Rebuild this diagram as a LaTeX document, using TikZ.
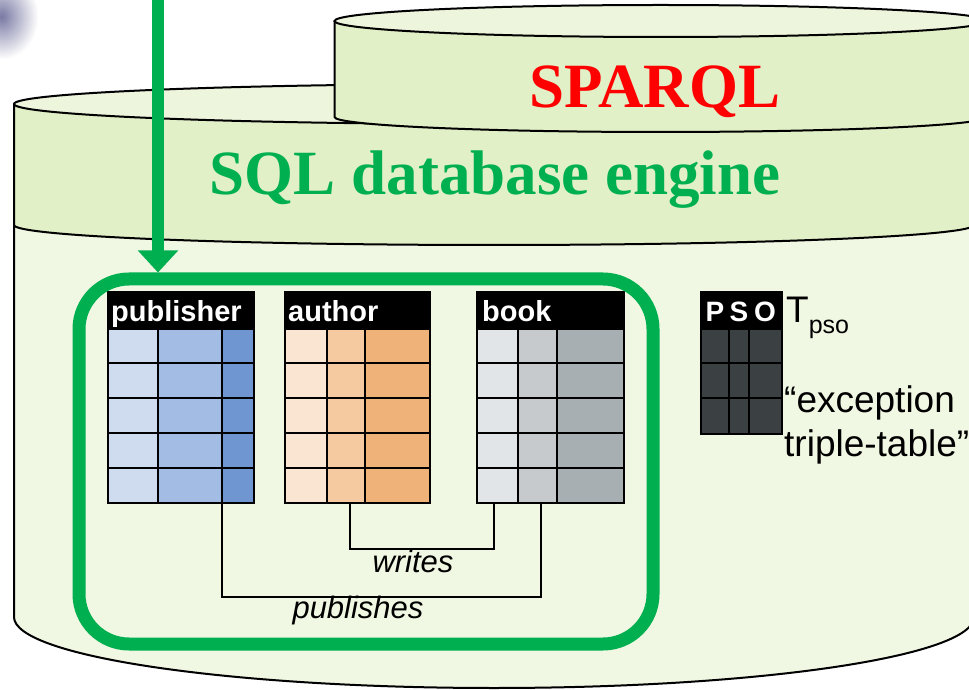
\documentclass[tikz,border=0pt]{standalone}
\usepackage{fontspec}
\setmainfont{Liberation Serif}
\setsansfont{Liberation Sans}
\usetikzlibrary{arrows.meta,fadings}

\definecolor{bodyfill}{HTML}{F0F7E2}
\definecolor{bandfill}{HTML}{E2F0C7}
\definecolor{topfill}{HTML}{EEF5DD}
\definecolor{enggreen}{HTML}{00B050}
\definecolor{blobc}{HTML}{6B6B9B}
\definecolor{pubA}{HTML}{CFDCEF}
\definecolor{pubB}{HTML}{A2BCE3}
\definecolor{pubC}{HTML}{7096D2}
\definecolor{autA}{HTML}{FAE4D2}
\definecolor{autB}{HTML}{F5CAA0}
\definecolor{autC}{HTML}{EFB37A}
\definecolor{bookA}{HTML}{E1E5E8}
\definecolor{bookB}{HTML}{C6CACD}
\definecolor{bookC}{HTML}{A7AFB2}
\definecolor{tripc}{HTML}{3B4042}

\tikzfading[name=blobfade, inner color=transparent!0, outer color=transparent!100]

% a relation table: column edges #1-#4, column fills #5-#7, bottom #8, row lines #9
\newcommand\reltable[9]{%
  \fill[#5] (#1,#8) rectangle (#2,360);
  \fill[#6] (#2,#8) rectangle (#3,360);
  \fill[#7] (#3,#8) rectangle (#4,360);
  \fill[black] (#1,360) rectangle (#4,397);
  \foreach \yy in {#9} {\draw[grid] (#1,\yy) -- (#4,\yy);}
  \draw[grid] (#2,#8) -- (#2,360) (#3,#8) -- (#3,360);
  \draw[grid] (#1,#8) rectangle (#4,397);
}

\begin{document}
\begin{tikzpicture}[x=1pt,y=1pt,
  outline/.style={draw=black, line width=2pt},
  grid/.style={line width=2.4pt, black},
  hdr/.style={text=white, font=\sffamily\bfseries\fontsize{29}{29}\selectfont, inner sep=0pt},
  link/.style={draw=black, line width=1.8pt},
  lbl/.style={font=\sffamily\itshape\fontsize{31}{31}\selectfont, inner sep=0pt},
  note/.style={font=\sffamily\fontsize{37}{44}\selectfont, inner sep=0pt},
  relbox/.style={draw=enggreen, line width=13pt, rounded corners=50pt,
    minimum width=574pt, minimum height=365pt, inner sep=0pt}]
\useasboundingbox (0,0) rectangle (969,689);
\clip (0,0) rectangle (969,689);
\fill[white] (0,0) rectangle (969,689);

% soft smudge in the upper left corner
\fill[blobc, path fading=blobfade, opacity=0.9] (-35,630) rectangle (38,715);

% SQL engine cylinder
\fill[bodyfill] (14,585) -- (14,72) arc[start angle=180,end angle=360,x radius=480,y radius=71] -- (974,585) -- cycle;
\fill[bandfill] (14,585) arc[start angle=180,end angle=360,x radius=480,y radius=20]
  -- (974,464) arc[start angle=0,end angle=-180,x radius=480,y radius=20] -- cycle;
\filldraw[fill=topfill, outline] (494,585) ellipse[x radius=480,y radius=20];
\draw[outline] (14,585) -- (14,72) arc[start angle=180,end angle=360,x radius=480,y radius=71] -- (974,585);
\draw[outline] (14,464) arc[start angle=180,end angle=360,x radius=480,y radius=20];
\node[anchor=base, inner sep=0pt, text=enggreen, font=\bfseries\fontsize{63}{63}\selectfont] (sqltitle) at (495,494) {SQL database engine};

% SPARQL cylinder on top
\fill[bandfill] (334.5,668) -- (334.5,572) arc[start angle=180,end angle=360,x radius=326,y radius=15] -- (986.5,668) -- cycle;
\draw[outline] (334.5,668) -- (334.5,572) arc[start angle=180,end angle=360,x radius=326,y radius=15] -- (986.5,668);
\filldraw[fill=topfill, outline] (660.5,668) ellipse[x radius=326,y radius=16];
\node[anchor=base, inner sep=0pt, text=red, font=\bfseries\fontsize{63}{63}\selectfont] (sparql) at (655,581) {SPARQL};

% relational tables
\reltable{108}{158}{222}{254}{pubA}{pubB}{pubC}{186}{360,326,291,256,221}
\reltable{285}{327}{365}{430}{autA}{autB}{autC}{186}{360,326,291,256,221}
\reltable{477}{518}{557}{624}{bookA}{bookB}{bookC}{186}{360,326,291,256,221}
\reltable{701}{729}{749}{782}{tripc}{tripc}{tripc}{255}{360,326,291}
\node[hdr, anchor=base west] (pubhdr) at (111,367) {publisher};
\node[hdr, anchor=base west] (authdr) at (288,367) {author};
\node[hdr, anchor=base west] (bookhdr) at (482,367) {book};
\node[hdr, anchor=base, font=\sffamily\bfseries\fontsize{28}{28}\selectfont] (hp) at (715,367) {P};
\node[hdr, anchor=base, font=\sffamily\bfseries\fontsize{28}{28}\selectfont] (hs) at (739,367) {S};
\node[hdr, anchor=base, font=\sffamily\bfseries\fontsize{28}{28}\selectfont] (ho) at (765,367) {O};

% triple table caption
\node[note, anchor=base west] (tpso) at (786,366) {T\raisebox{-10pt}{\fontsize{25}{25}\selectfont pso}};
\node[note, anchor=base west] (exc1) at (784,277) {“exception};
\node[note, anchor=base west] (exc2) at (784,233) {triple-table”};

% foreign-key links
\coordinate (wA) at (350,186);
\coordinate (wB) at (494,186);
\coordinate (pA) at (222,186);
\coordinate (pB) at (541,186);
\draw[link] (wA) -- ++(0,-46) -| (wB);
\draw[link] (pA) -- ++(0,-94) -| (pB);
\node[lbl, anchor=base] (wlbl) at (413,117) {writes};
\node[lbl, anchor=base] (plbl) at (358,71) {publishes};

% relational scope and incoming query arrow
\node[relbox] (relscope) at (366,227.5) {};
\coordinate (qsrc) at (158,700);
\draw[enggreen, line width=12pt, -{Triangle[width=39pt,length=22pt]}] (qsrc) -- (relscope.north -| qsrc);
\end{tikzpicture}
\end{document}
